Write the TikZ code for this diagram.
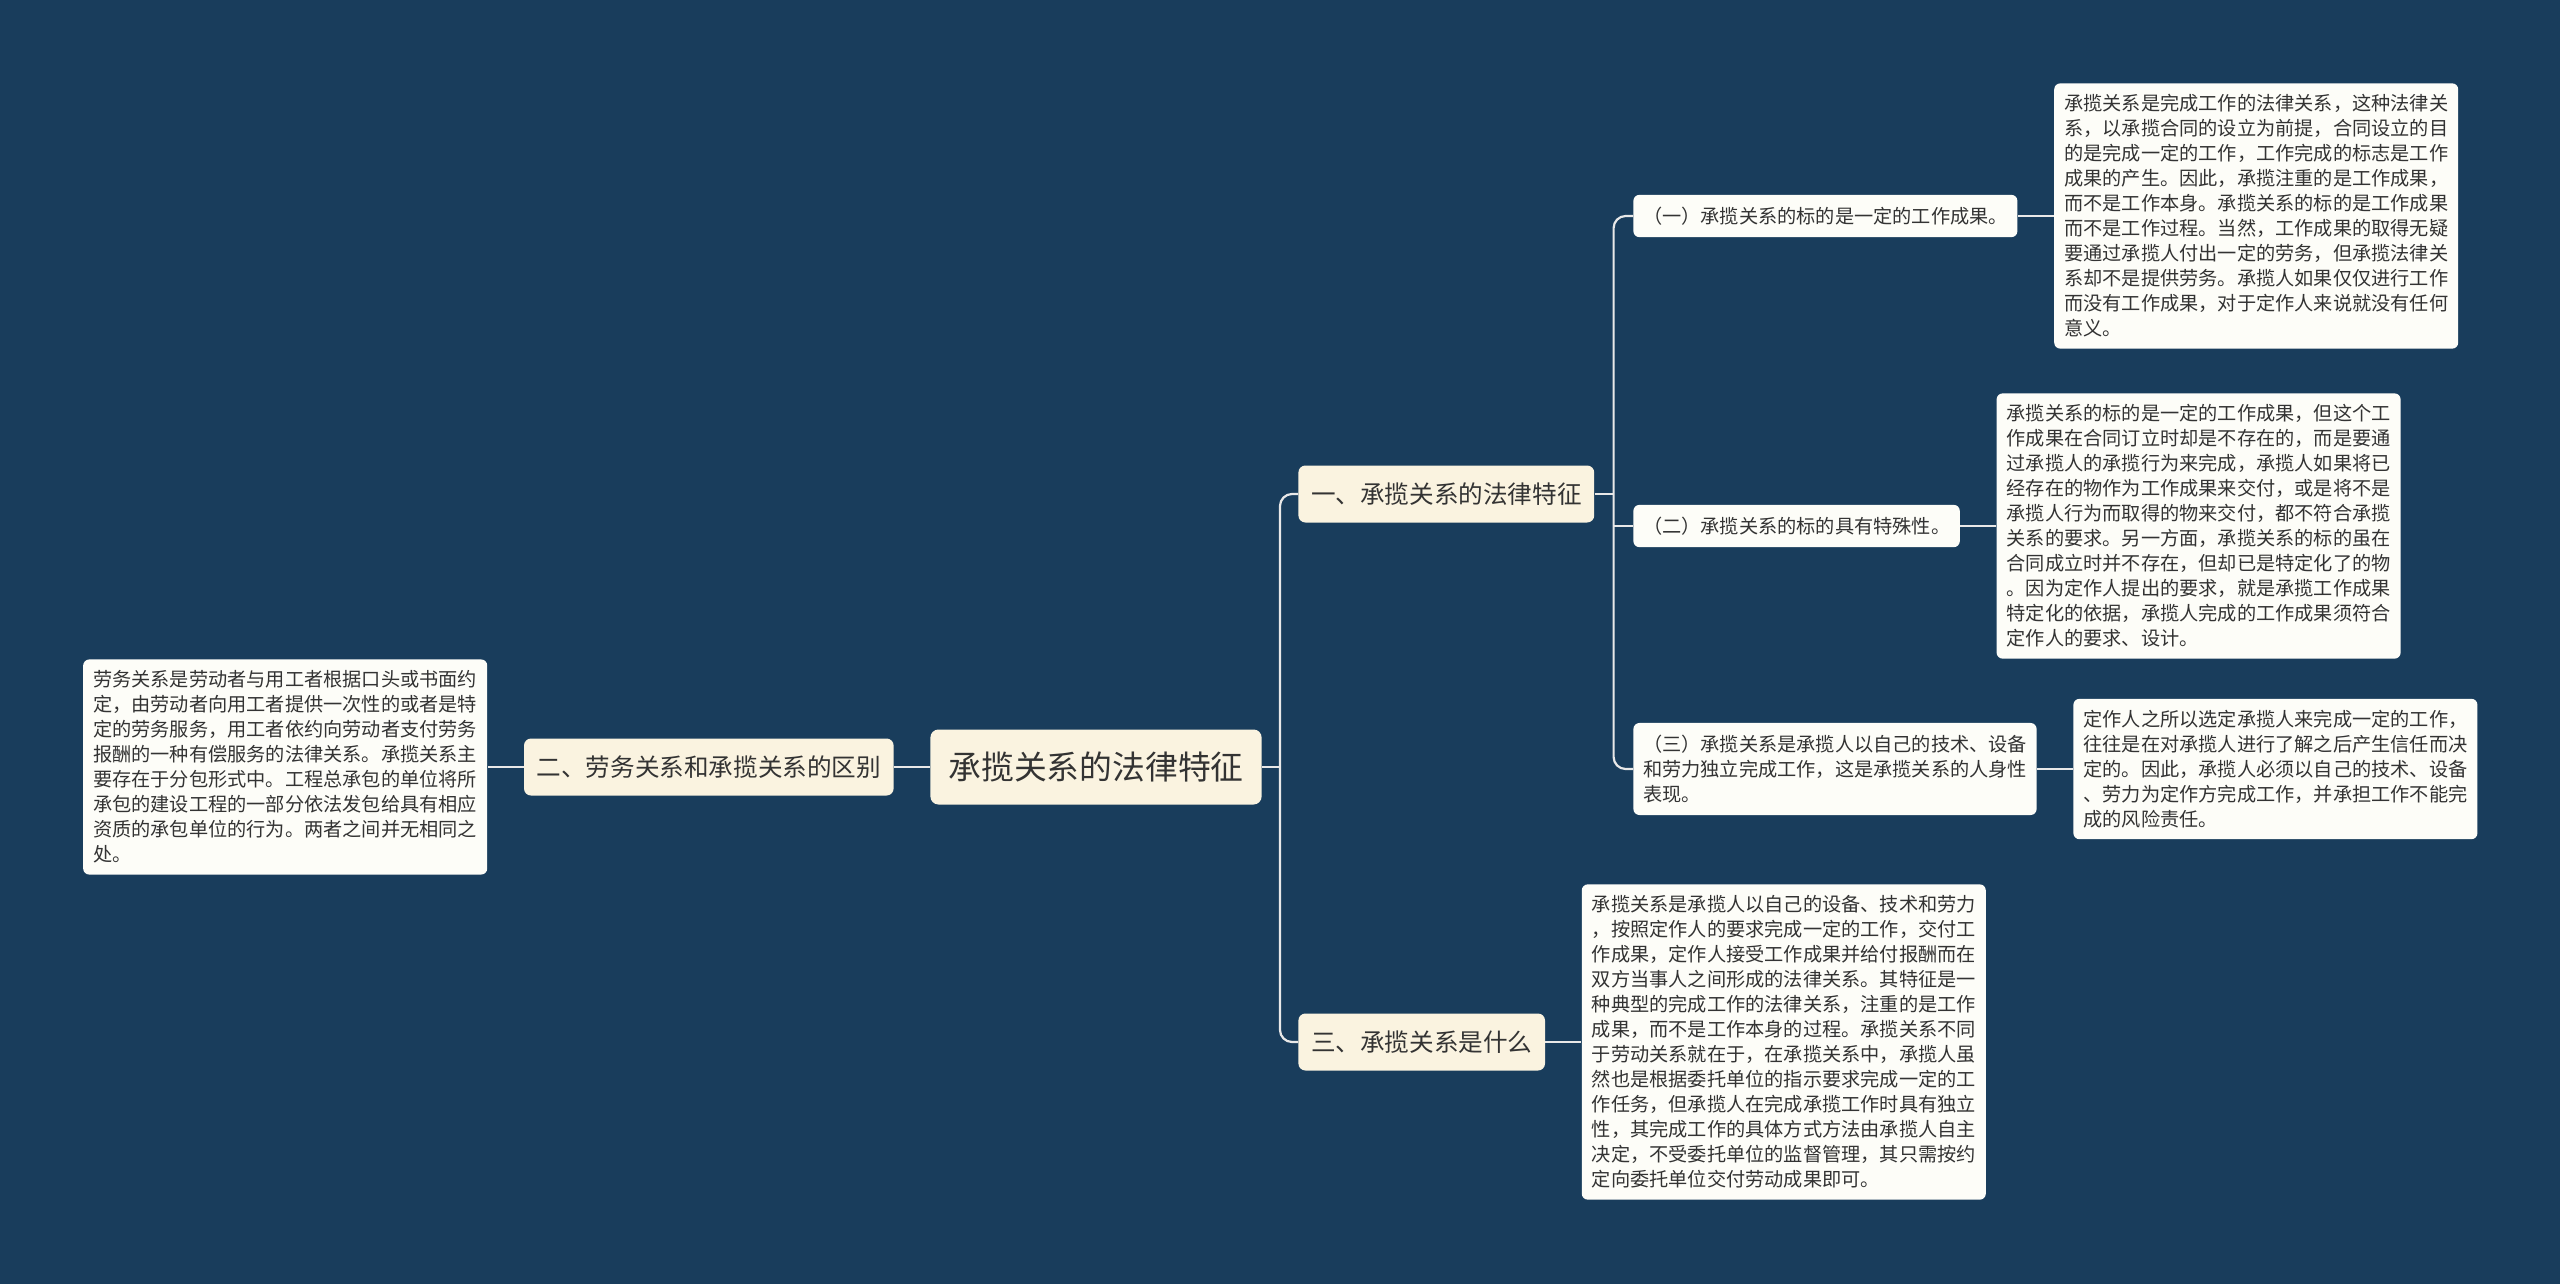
\documentclass[tikz,border=0pt]{standalone}
\usepackage{fontspec}
\setmainfont{Noto Sans CJK SC}
\usetikzlibrary{positioning}

\definecolor{bgblue}{HTML}{193D5C}
\definecolor{topicfill}{HTML}{FAF3E0}
\definecolor{leaffill}{HTML}{FDFDF8}
\definecolor{ink}{HTML}{333333}
\definecolor{wire}{HTML}{E8E8E8}

\begin{document}
\begin{tikzpicture}[
    x=0.5pt, y=-0.5pt,
    root/.style={fill=topicfill, rounded corners=4pt, text=ink, font=\fontsize{16.4}{19}\selectfont, inner xsep=9pt, minimum height=37.5pt},
    topic/.style={fill=topicfill, rounded corners=3.5pt, text=ink, font=\fontsize{12.3}{15}\selectfont, inner xsep=6.3pt, minimum height=28.5pt},
    sub/.style={fill=leaffill, rounded corners=3pt, text=ink, font=\fontsize{9.6}{12.5}\selectfont, inner xsep=4.8pt, inner ysep=6pt, align=left},
    leaf/.style={sub, inner xsep=5pt, inner ysep=5.6pt},
    link/.style={wire, line width=1.1pt},
    node distance=18pt,
  ]
    \fill[bgblue] (0,0) rectangle (2560,1284);
    \useasboundingbox (0,0) rectangle (2560,1284);

    \node[root] (root) at (1096,767) {承揽关系的法律特征};

    % left side
    \node[topic, left=of root] (diff) {二、劳务关系和承揽关系的区别};
    \node[leaf, left=of diff] (difftxt) {劳务关系是劳动者与用工者根据口头或书面约\\定，由劳动者向用工者提供一次性的或者是特\\定的劳务服务，用工者依约向劳动者支付劳务\\报酬的一种有偿服务的法律关系。承揽关系主\\要存在于分包形式中。工程总承包的单位将所\\承包的建设工程的一部分依法发包给具有相应\\资质的承包单位的行为。两者之间并无相同之\\处。};

    % right side
    \node[topic, anchor=west] (feat) at (1298,494) {一、承揽关系的法律特征};
    \node[topic, anchor=west] (what) at (1298,1042) {三、承揽关系是什么};

    \node[sub, anchor=west] (f1) at (1633,216) {（一）承揽关系的标的是一定的工作成果。};
    \node[sub, anchor=west] (f2) at (1633,526) {（二）承揽关系的标的具有特殊性。};
    \node[sub, anchor=west] (f3) at (1633,769) {（三）承揽关系是承揽人以自己的技术、设备\\和劳力独立完成工作，这是承揽关系的人身性\\表现。};

    \node[leaf, right=of f1] (f1txt) {承揽关系是完成工作的法律关系，这种法律关\\系，以承揽合同的设立为前提，合同设立的目\\的是完成一定的工作，工作完成的标志是工作\\成果的产生。因此，承揽注重的是工作成果，\\而不是工作本身。承揽关系的标的是工作成果\\而不是工作过程。当然，工作成果的取得无疑\\要通过承揽人付出一定的劳务，但承揽法律关\\系却不是提供劳务。承揽人如果仅仅进行工作\\而没有工作成果，对于定作人来说就没有任何\\意义。};
    \node[leaf, right=of f2] (f2txt) {承揽关系的标的是一定的工作成果，但这个工\\作成果在合同订立时却是不存在的，而是要通\\过承揽人的承揽行为来完成，承揽人如果将已\\经存在的物作为工作成果来交付，或是将不是\\承揽人行为而取得的物来交付，都不符合承揽\\关系的要求。另一方面，承揽关系的标的虽在\\合同成立时并不存在，但却已是特定化了的物\\。因为定作人提出的要求，就是承揽工作成果\\特定化的依据，承揽人完成的工作成果须符合\\定作人的要求、设计。};
    \node[leaf, right=of f3] (f3txt) {定作人之所以选定承揽人来完成一定的工作，\\往往是在对承揽人进行了解之后产生信任而决\\定的。因此，承揽人必须以自己的技术、设备\\、劳力为定作方完成工作，并承担工作不能完\\成的风险责任。};
    \node[leaf, right=of what] (whattxt) {承揽关系是承揽人以自己的设备、技术和劳力\\，按照定作人的要求完成一定的工作，交付工\\作成果，定作人接受工作成果并给付报酬而在\\双方当事人之间形成的法律关系。其特征是一\\种典型的完成工作的法律关系，注重的是工作\\成果，而不是工作本身的过程。承揽关系不同\\于劳动关系就在于，在承揽关系中，承揽人虽\\然也是根据委托单位的指示要求完成一定的工\\作任务，但承揽人在完成承揽工作时具有独立\\性，其完成工作的具体方式方法由承揽人自主\\决定，不受委托单位的监督管理，其只需按约\\定向委托单位交付劳动成果即可。};

    % connectors
    \draw[link] (root.west) -- (diff.east);
    \draw[link] (diff.west) -- (difftxt.east);

    \coordinate (rj) at ([xshift=9pt]root.east);
    \draw[link] (root.east) -- (rj);
    \draw[link, rounded corners=6pt] (feat.west) -| (rj) |- (what.west);

    \coordinate (fj) at ([xshift=9.5pt]feat.east);
    \draw[link] (feat.east) -- (fj);
    \draw[link, rounded corners=6pt] (f1.west) -| (fj) |- (f3.west);
    \draw[link] (f2.west) -- (f2.west -| fj);

    \draw[link] (f1.east) -- (f1txt.west);
    \draw[link] (f2.east) -- (f2txt.west);
    \draw[link] (f3.east) -- (f3txt.west);
    \draw[link] (what.east) -- (whattxt.west);
\end{tikzpicture}
\end{document}
